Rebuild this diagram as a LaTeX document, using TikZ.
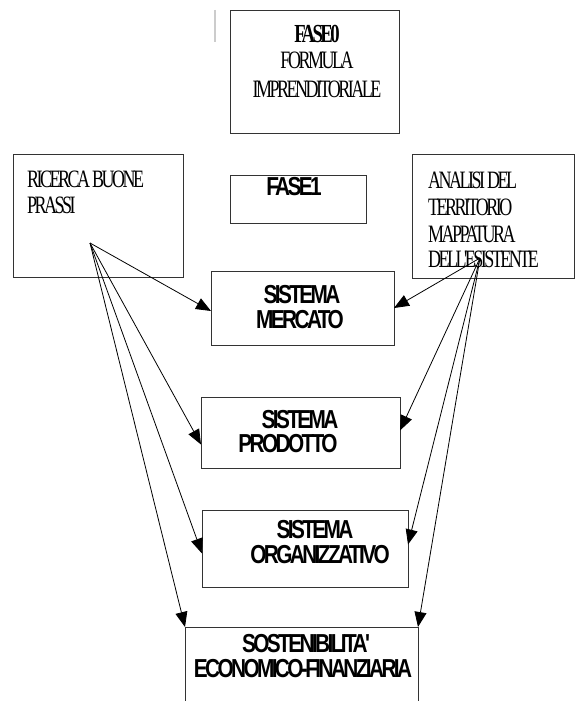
\documentclass[tikz,border=0pt]{standalone}
\usepackage{fontspec}
\newfontfamily\sysfont[FakeStretch=0.8,LetterSpace=-10]{Liberation Sans}
\newfontfamily\serfont[FakeStretch=0.72,LetterSpace=-10]{Liberation Serif}
\usetikzlibrary{arrows.meta,calc}
\tikzset{
  box/.style={draw=black!80, line width=0.8pt, inner sep=0pt, outer sep=0pt, fill=none},
  stxt/.style={inner sep=0pt, font=\serfont\fontsize{25}{29}\selectfont},
  sbtxt/.style={inner sep=0pt, font=\serfont\bfseries\fontsize{26}{30}\selectfont},
  systxt/.style={inner sep=0pt, font=\sysfont\bfseries\fontsize{26}{30}\selectfont},
  arr/.style={line width=0.8pt, -{Triangle[length=15pt,width=12pt]}}
}
\begin{document}
\begin{tikzpicture}[x=1pt,y=-1pt]
\useasboundingbox (0,0) rectangle (576,701);
% stray gray mark
\coordinate (g1) at (215,10);
\coordinate (g2) at (215,42);
\draw[black!20, line width=1.2pt] (g1) -- (g2);
% boxes
\node[box, minimum width=169pt, minimum height=123pt] (f0) at (314.5,71.5) {};
\node[box, minimum width=170pt, minimum height=123pt] (rb) at (98,215.5) {};
\node[box, minimum width=162pt, minimum height=124pt] (an) at (493,216) {};
\node[box, minimum width=136pt, minimum height=48pt] (f1) at (298,199) {};
\node[box, minimum width=183pt, minimum height=74pt] (sm) at (302.5,308) {};
\node[box, minimum width=199pt, minimum height=71pt] (sp) at (300.5,432.5) {};
\node[box, minimum width=206pt, minimum height=77pt] (so) at (305,548.5) {};
\node[box, minimum width=233pt, minimum height=85pt] (se) at (301.5,669.5) {};
% texts
\node[sbtxt, anchor=base] (f0a) at (317,43) {FASE0};
\node[stxt, anchor=base] (f0b) at (317,69) {FORMULA};
\node[stxt, anchor=base] (f0c) at (317,97) {IMPRENDITORIALE};
\node[stxt, anchor=base west] (rba) at (27,187) {RICERCA BUONE};
\node[stxt, anchor=base west] (rbb) at (27,213) {PRASSI};
\node[stxt, anchor=base west] (ana) at (428,188) {ANALISI DEL};
\node[stxt, anchor=base west] (anb) at (428,215) {TERRITORIO};
\node[stxt, anchor=base west] (anc) at (428,242) {MAPPATURA};
\node[stxt, anchor=base west] (and) at (428,267) {DELL'ESISTENTE};
\node[systxt, anchor=base] (f1a) at (294,195) {FASE1};
\node[systxt, anchor=base] (sma) at (302,303) {SISTEMA};
\node[systxt, anchor=base] (smb) at (300,328) {MERCATO};
\node[systxt, anchor=base] (spa) at (300,428) {SISTEMA};
\node[systxt, anchor=base] (spb) at (288,452) {PRODOTTO};
\node[systxt, anchor=base] (soa) at (315,538) {SISTEMA};
\node[systxt, anchor=base] (sob) at (320,563) {ORGANIZZATIVO};
\node[systxt, anchor=base] (sea) at (306,652) {SOSTENIBILITA'};
\node[systxt, anchor=base] (seb) at (303,677) {ECONOMICO-FINANZIARIA};
% arrow origins
\coordinate (lo) at (90,243);
\coordinate (ro) at (480,258);
\draw[arr] (lo) -- ($(sm.west)+(0,3)$);
\draw[arr] (lo) -- ($(sp.west)+(0,12)$);
\draw[arr] (lo) -- ($(so.west)+(0,5)$);
\draw[arr] (lo) -- (se.north west);
\draw[arr] (ro) -- (sm.east);
\draw[arr] (ro) -- ($(sp.east)+(0,-2)$);
\draw[arr] (ro) -- ($(so.east)+(0,-4)$);
\draw[arr] (ro) -- (se.north east);
\end{tikzpicture}
\end{document}
